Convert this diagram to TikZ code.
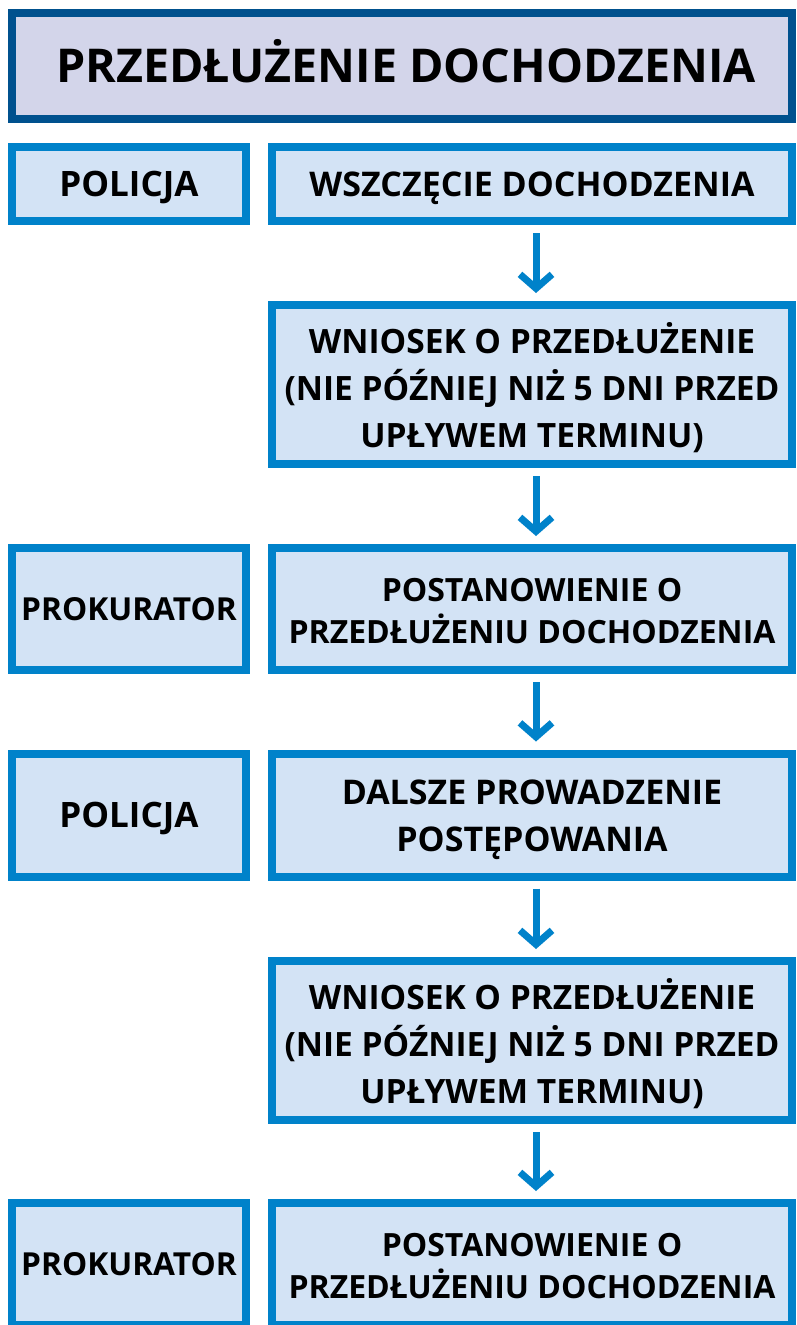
\documentclass[tikz,border=0pt]{standalone}
\usepackage{fontspec}
\setmainfont{Open Sans}
\usetikzlibrary{arrows.meta}
\definecolor{titleborder}{HTML}{00518E}
\definecolor{titlefill}{HTML}{D3D5EA}
\definecolor{boxborder}{HTML}{0082CA}
\definecolor{boxfill}{HTML}{D3E3F5}
\tikzset{
  titlebox/.style={draw=titleborder, fill=titlefill, line width=8pt, rectangle,
    inner sep=0pt, align=center, font=\fontsize{46.6}{50}\selectfont\bfseries,
    text height=33.3pt, text depth=0pt},
  flowbox/.style={draw=boxborder, fill=boxfill, line width=8pt, rectangle,
    inner sep=0pt, align=center, fs34},
  fs34/.style={font=\fontsize{34}{47.5}\selectfont\bfseries, text height=24.3pt, text depth=0pt},
  fs35/.style={font=\fontsize{35}{47.5}\selectfont\bfseries, text height=25pt, text depth=0pt},
  fs317/.style={font=\fontsize{31.7}{47.5}\selectfont\bfseries, text height=22.6pt, text depth=0pt},
  fs34two/.style={font=\fontsize{34}{47}\selectfont\bfseries, text height=73.3pt, text depth=0pt},
  fs32two/.style={font=\fontsize{32}{41.7}\selectfont\bfseries, text height=68.5pt, text depth=0pt},
  fs335three/.style={font=\fontsize{33.5}{47}\selectfont\bfseries, text height=126.9pt, text depth=0pt},
  leftbox/.style={flowbox, minimum width=234pt},
  rightbox/.style={flowbox, minimum width=520pt},
  flowarrow/.style={draw=boxborder, line width=7pt, shorten <=8pt, shorten >=8pt,
    -{Straight Barb[length=14pt, width=32pt, line width=7pt]}}
}
\begin{document}
\begin{tikzpicture}[x=1pt, y=-1pt]
\useasboundingbox (0,0) rectangle (796,1325);
\node[titlebox, minimum width=780pt, minimum height=106pt] (title) at (402,65.5) {\hspace*{8pt}PRZEDŁUŻENIE DOCHODZENIA};

\node[leftbox, fs35, minimum height=74pt] (l1) at (129,184) {POLICJA};
\node[rightbox, fs34, minimum height=74pt] (r1) at (532,184) {WSZCZĘCIE DOCHODZENIA};

\node[rightbox, fs335three, minimum height=159pt] (r2) at (532,384.5) {WNIOSEK O PRZEDŁUŻENIE\\(NIE PÓŹNIEJ NIŻ 5 DNI PRZED\\UPŁYWEM TERMINU)};

\node[leftbox, fs317, minimum height=122pt] (l3) at (129,609) {PROKURATOR};
\node[rightbox, fs32two, minimum height=122pt] (r3) at (532,609) {POSTANOWIENIE O\\PRZEDŁUŻENIU DOCHODZENIA};

\node[leftbox, fs35, minimum height=123pt] (l4) at (129,815) {POLICJA};
\node[rightbox, fs34two, minimum height=123pt] (r4) at (532,815) {DALSZE PROWADZENIE\\POSTĘPOWANIA};

\node[rightbox, fs335three, minimum height=159pt] (r5) at (532,1040.5) {WNIOSEK O PRZEDŁUŻENIE\\(NIE PÓŹNIEJ NIŻ 5 DNI PRZED\\UPŁYWEM TERMINU)};

\node[leftbox, fs317, minimum height=122pt] (l6) at (129,1264) {PROKURATOR};
\node[rightbox, fs32two, minimum height=122pt] (r6) at (532,1264) {POSTANOWIENIE O\\PRZEDŁUŻENIU DOCHODZENIA};

\coordinate (ax) at (536,0);
\draw[flowarrow] (r1.south -| ax) -- (r2.north -| ax);
\draw[flowarrow] (r2.south -| ax) -- (r3.north -| ax);
\draw[flowarrow] (r3.south -| ax) -- (r4.north -| ax);
\draw[flowarrow] (r4.south -| ax) -- (r5.north -| ax);
\draw[flowarrow] (r5.south -| ax) -- (r6.north -| ax);
\end{tikzpicture}
\end{document}
